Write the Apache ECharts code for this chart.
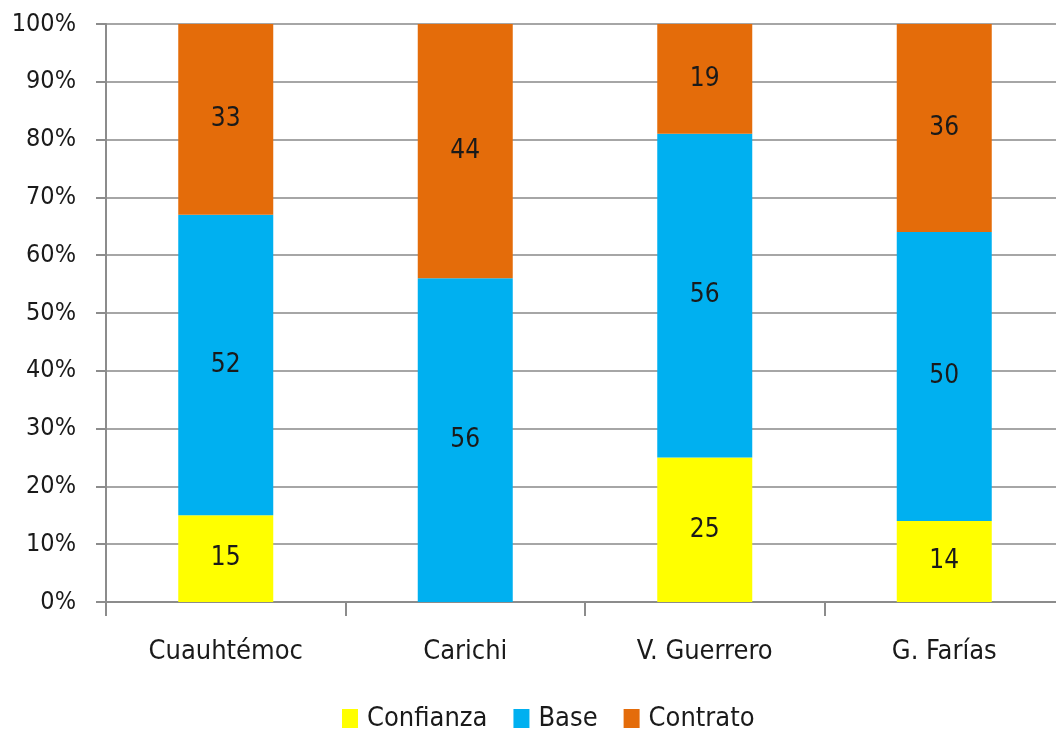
<!DOCTYPE html>
<html>
<head>
<meta charset="utf-8">
<script src="https://cdn.jsdelivr.net/npm/echarts@6/dist/echarts.min.js"></script>
<style>
  html, body { margin: 0; padding: 0; background: #ffffff; }
  #chart { width: 1056px; height: 734px; }
</style>
</head>
<body>
<div id="chart"></div>
<script>
// Personal por tipo de plaza (porcentaje) en cada municipio
const categories = ['Cuauhtémoc', 'Carichi', 'V. Guerrero', 'G. Farías'];
const confianza = [15, 0, 25, 14];
const base = [52, 56, 56, 50];
const contrato = [33, 44, 19, 36];
const seriesNames = ['Confianza', 'Base', 'Contrato'];
const colors = ['#FFFF00', '#00B0F0', '#E46C0A'];

const FONT = '"DejaVu Sans Condensed", "DejaVu Sans", sans-serif';
const TEXT = '#1a1a1a';
const chart = echarts.init(document.getElementById('chart'));

function barSeries(name, data, color) {
  return {
    name: name,
    type: 'bar',
    stack: 'total',
    barWidth: 95,
    data: data,
    itemStyle: { color: color },
    label: {
      show: true,
      position: 'inside',
      color: TEXT,
      fontFamily: FONT,
      fontSize: 26,
      formatter: p => (p.value ? String(p.value) : '')
    }
  };
}

chart.setOption({
  animation: false,
  backgroundColor: '#ffffff',
  // the plot runs slightly past the right edge of the canvas
  grid: { left: 106, top: 24, width: 958, height: 578, outerBoundsMode: 'none', containLabel: false },
  legend: {
    top: 700,
    left: 337,
    itemWidth: 16,
    itemHeight: 19,
    itemGap: 26,
    icon: 'rect',
    textStyle: { fontFamily: FONT, fontSize: 27, color: TEXT, padding: [0, 0, 0, 4] },
    data: seriesNames
  },
  xAxis: {
    type: 'category',
    data: categories,
    axisLine: { lineStyle: { color: '#8c8c8c', width: 2 } },
    axisTick: { show: true, length: 14, lineStyle: { color: '#8c8c8c', width: 2 } },
    axisLabel: { fontFamily: FONT, fontSize: 27, color: TEXT, margin: 36 }
  },
  yAxis: {
    type: 'value',
    min: 0,
    max: 100,
    interval: 10,
    axisLine: { show: true, lineStyle: { color: '#8c8c8c', width: 2 } },
    axisTick: { show: true, length: 10, lineStyle: { color: '#8c8c8c', width: 2 } },
    splitLine: { lineStyle: { color: '#a6a6a6', width: 2 } },
    axisLabel: { fontFamily: FONT, fontSize: 25, color: TEXT, margin: 30, formatter: '{value}%' }
  },
  series: [
    barSeries(seriesNames[0], confianza, colors[0]),
    barSeries(seriesNames[1], base, colors[1]),
    barSeries(seriesNames[2], contrato, colors[2])
  ]
});
</script>
</body>
</html>
